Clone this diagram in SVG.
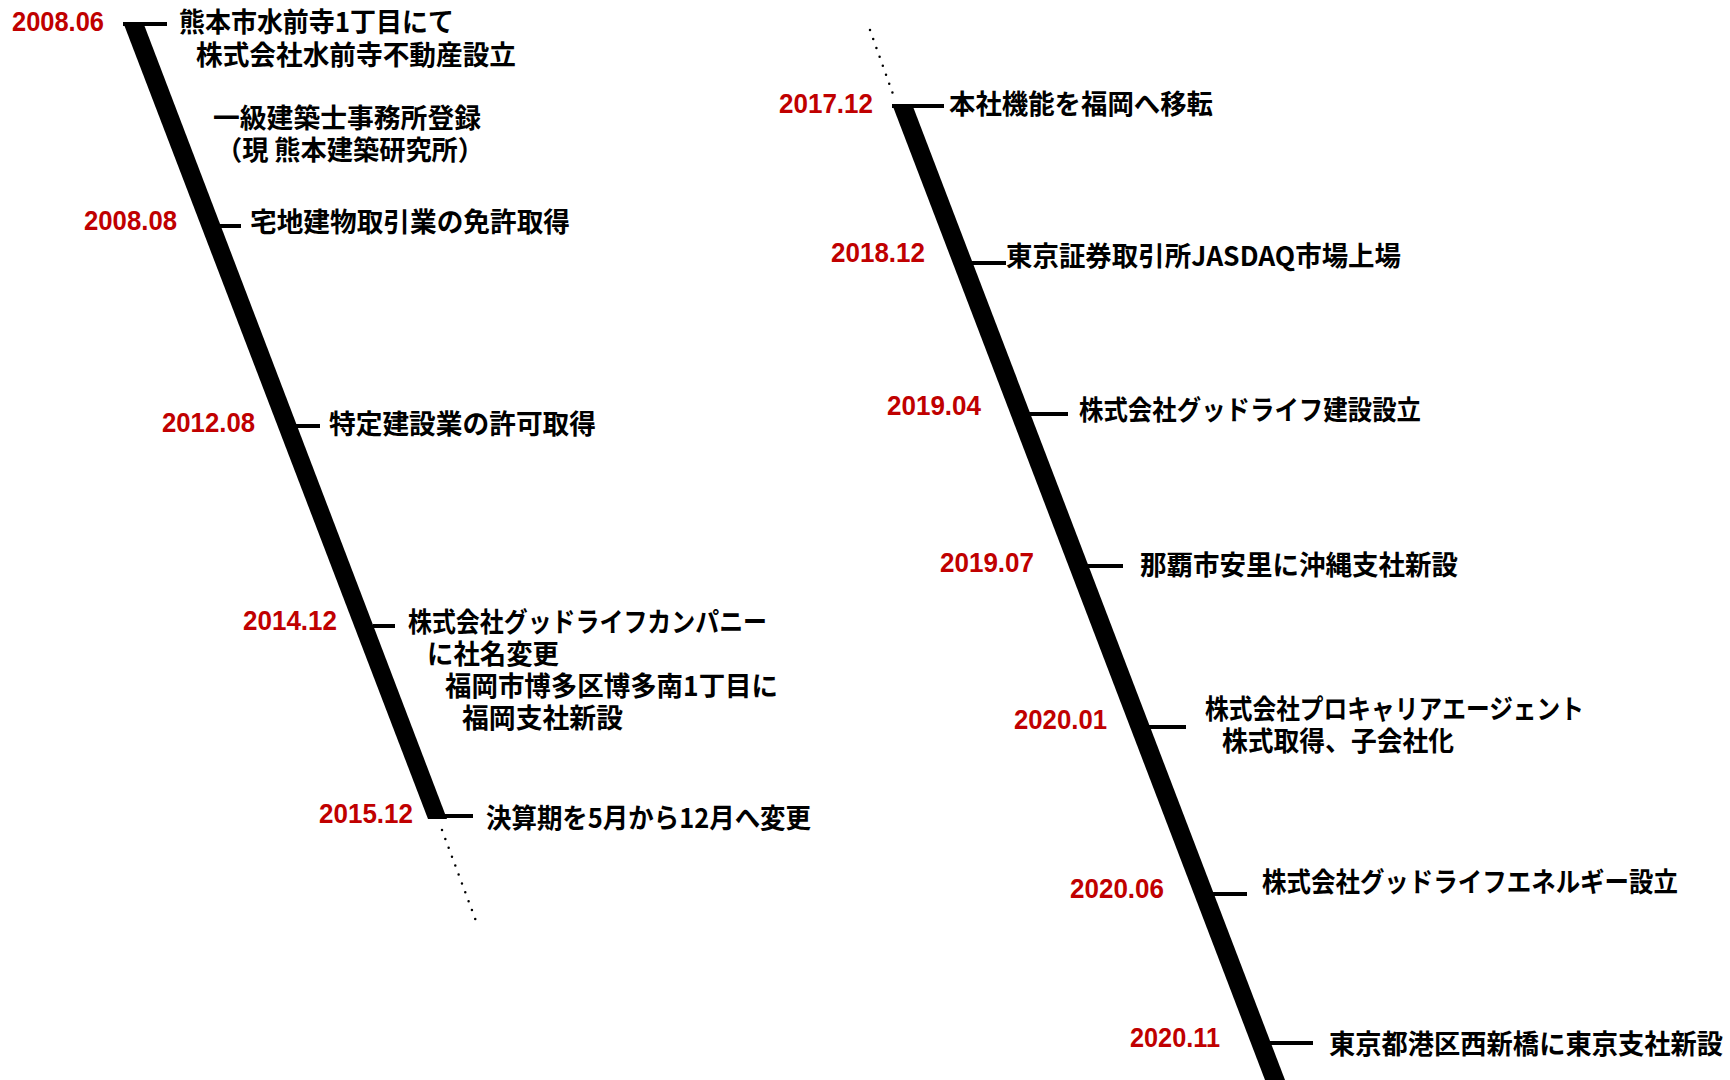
<svg xmlns="http://www.w3.org/2000/svg" width="1730" height="1080" viewBox="0 0 1730 1080">
<style>
.d{font-family:"Liberation Sans",Arial,sans-serif;font-weight:700;font-size:27px;fill:#c00000}
.t{font-family:"Noto Sans CJK JP","Noto Sans CJK SC",sans-serif;font-weight:700;font-size:27px;fill:#000}
.k{stroke:#000;stroke-width:4;fill:none}
.dot{stroke:#000;stroke-width:2.5;stroke-linecap:round;stroke-dasharray:0 9.5;fill:none}
</style>
<rect width="1730" height="1080" fill="#fff"/>
<g id="connectors">
<polygon points="123,22 143,22 447,819 428,819" fill="#000"/>
<polygon points="892,104 912,104 1285,1080 1265,1080" fill="#000"/>
<line class="dot" x1="442" y1="830" x2="476" y2="921"/>
<line class="dot" x1="870" y1="30" x2="894" y2="97"/>
</g>
<g id="e2008-06">
<line class="k" x1="123" y1="24" x2="167" y2="24"/>
<text class="d" x="12" y="31" textLength="92" lengthAdjust="spacingAndGlyphs">2008.06</text>
<text class="t" x="179" y="32" textLength="275" lengthAdjust="spacingAndGlyphs">熊本市水前寺1丁目にて</text>
<text class="t" x="196" y="65" textLength="320" lengthAdjust="spacingAndGlyphs">株式会社水前寺不動産設立</text>
</g>
<g id="e-kenchikushi">
<text class="t" x="213" y="128" textLength="268" lengthAdjust="spacingAndGlyphs">一級建築士事務所登録</text>
<text class="t" x="216" y="160" textLength="268" lengthAdjust="spacingAndGlyphs">（現 熊本建築研究所）</text>
</g>
<g id="e2008-08">
<line class="k" x1="215" y1="226" x2="241" y2="226"/>
<text class="d" x="84" y="230" textLength="93" lengthAdjust="spacingAndGlyphs">2008.08</text>
<text class="t" x="250" y="232" textLength="320" lengthAdjust="spacingAndGlyphs">宅地建物取引業の免許取得</text>
</g>
<g id="e2012-08">
<line class="k" x1="294" y1="426" x2="320" y2="426"/>
<text class="d" x="162" y="432" textLength="93" lengthAdjust="spacingAndGlyphs">2012.08</text>
<text class="t" x="329" y="434" textLength="267" lengthAdjust="spacingAndGlyphs">特定建設業の許可取得</text>
</g>
<g id="e2014-12">
<line class="k" x1="373" y1="626" x2="395" y2="626"/>
<text class="d" x="243" y="630" textLength="94" lengthAdjust="spacingAndGlyphs">2014.12</text>
<text class="t" x="408" y="632" textLength="359" lengthAdjust="spacingAndGlyphs">株式会社グッドライフカンパニー</text>
<text class="t" x="427" y="664" textLength="132" lengthAdjust="spacingAndGlyphs">に社名変更</text>
<text class="t" x="445" y="696" textLength="333" lengthAdjust="spacingAndGlyphs">福岡市博多区博多南1丁目に</text>
<text class="t" x="462" y="728" textLength="161" lengthAdjust="spacingAndGlyphs">福岡支社新設</text>
</g>
<g id="e2015-12">
<line class="k" x1="428" y1="816" x2="473" y2="816"/>
<text class="d" x="319" y="823" textLength="94" lengthAdjust="spacingAndGlyphs">2015.12</text>
<text class="t" x="486" y="828" textLength="325" lengthAdjust="spacingAndGlyphs">決算期を5月から12月へ変更</text>
</g>
<g id="e2017-12">
<line class="k" x1="892" y1="106" x2="944" y2="106"/>
<text class="d" x="779" y="113" textLength="94" lengthAdjust="spacingAndGlyphs">2017.12</text>
<text class="t" x="949" y="114" textLength="264" lengthAdjust="spacingAndGlyphs">本社機能を福岡へ移転</text>
</g>
<g id="e2018-12">
<line class="k" x1="962" y1="263" x2="1006" y2="263"/>
<text class="d" x="831" y="262" textLength="94" lengthAdjust="spacingAndGlyphs">2018.12</text>
<text class="t" x="1006" y="266" textLength="395" lengthAdjust="spacingAndGlyphs">東京証券取引所JASDAQ市場上場</text>
</g>
<g id="e2019-04">
<line class="k" x1="1016" y1="414" x2="1068" y2="414"/>
<text class="d" x="887" y="415" textLength="94" lengthAdjust="spacingAndGlyphs">2019.04</text>
<text class="t" x="1079" y="420" textLength="342" lengthAdjust="spacingAndGlyphs">株式会社グッドライフ建設設立</text>
</g>
<g id="e2019-07">
<line class="k" x1="1076" y1="566" x2="1123" y2="566"/>
<text class="d" x="940" y="572" textLength="94" lengthAdjust="spacingAndGlyphs">2019.07</text>
<text class="t" x="1140" y="575" textLength="318" lengthAdjust="spacingAndGlyphs">那覇市安里に沖縄支社新設</text>
</g>
<g id="e2020-01">
<line class="k" x1="1140" y1="727" x2="1186" y2="727"/>
<text class="d" x="1014" y="729" textLength="93" lengthAdjust="spacingAndGlyphs">2020.01</text>
<text class="t" x="1205" y="719" textLength="379" lengthAdjust="spacingAndGlyphs">株式会社プロキャリアエージェント</text>
<text class="t" x="1222" y="751" textLength="232" lengthAdjust="spacingAndGlyphs">株式取得、子会社化</text>
</g>
<g id="e2020-06">
<line class="k" x1="1200" y1="894" x2="1247" y2="894"/>
<text class="d" x="1070" y="898" textLength="94" lengthAdjust="spacingAndGlyphs">2020.06</text>
<text class="t" x="1262" y="892" textLength="416" lengthAdjust="spacingAndGlyphs">株式会社グッドライフエネルギー設立</text>
</g>
<g id="e2020-11">
<line class="k" x1="1258" y1="1043" x2="1313" y2="1043"/>
<text class="d" x="1130" y="1047" textLength="90" lengthAdjust="spacingAndGlyphs">2020.11</text>
<text class="t" x="1329" y="1054" textLength="394" lengthAdjust="spacingAndGlyphs">東京都港区西新橋に東京支社新設</text>
</g>
</svg>
